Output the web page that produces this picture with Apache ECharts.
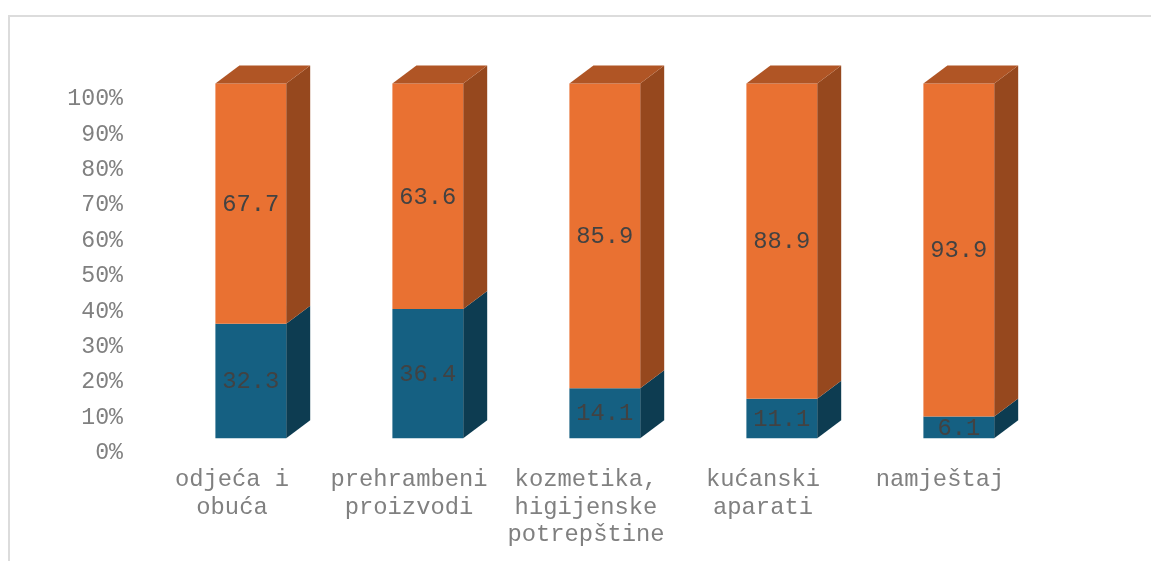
<!DOCTYPE html>
<html><head><meta charset="utf-8">
<style>html,body{margin:0;padding:0;background:#fff}#c{width:1151px;height:561px}</style>
<script src="https://cdn.jsdelivr.net/npm/echarts@6/dist/echarts.min.js"></script>
</head><body><div id="c"></div>
<script>
const categories = ['odjeća i\nobuća','prehrambeni\nproizvodi','kozmetika,\nhigijenske\npotrepštine','kućanski\naparati','namještaj'];
const blueValues = [32.3,36.4,14.1,11.1,6.1];
const orangeValues = [67.7,63.6,85.9,88.9,93.9];
const FONT = '"Liberation Mono", monospace';
const DX = 24, DY = -18;

function renderer(front, side, top, withTop) {
  return function (params, api) {
    const i = api.value(0), lo = api.value(1), hi = api.value(2);
    const c = api.coord([i, 0]);
    const w = api.size([1, 0])[0] * 0.4;
    const x0 = c[0] - w / 2, x1 = c[0] + w / 2;
    const yLo = api.coord([i, lo])[1], yHi = api.coord([i, hi])[1];
    const kids = [
      {type:'polygon', shape:{points:[[x1,yLo],[x1+DX,yLo+DY],[x1+DX,yHi+DY],[x1,yHi]]}, style:{fill:side}},
      {type:'rect', shape:{x:x0,y:yHi,width:w,height:yLo-yHi}, style:{fill:front}}
    ];
    if (withTop) kids.push({type:'polygon', shape:{points:[[x0,yHi],[x0+DX,yHi+DY],[x1+DX,yHi+DY],[x1,yHi]]}, style:{fill:top}});
    kids.push({type:'text', style:{text:String(api.value(3)), x:c[0], y:(yLo+yHi)/2+1, align:'center', verticalAlign:'middle',
      font:'23.8px '+FONT, fill:'#424242'}});
    return {type:'group', children:kids};
  };
}
function rows(values, bases) {
  return values.map((v,i)=>[i, bases ? bases[i] : 0, (bases ? bases[i] : 0) + v, v]);
}
const chart = echarts.init(document.getElementById('c'), null, {renderer:'canvas'});
chart.setOption({
  animation:false,
  backgroundColor:'#fff',
  graphic:[{type:'rect', shape:{x:9,y:16,width:1300,height:700}, style:{fill:'none',stroke:'#dcdcdc',lineWidth:2}, silent:true}],
  grid:[
    {left:162.3, width:885, top:83.5, height:354.7},
    {left:143.5, width:885, top:99, height:354}
  ],
  xAxis:[
    {gridIndex:0, type:'category', data:categories, show:false},
    {gridIndex:1, type:'category', data:categories, axisLine:{show:false}, axisTick:{show:false},
     axisLabel:{interval:0, margin:13, color:'#808080', fontFamily:FONT, fontSize:23.8, lineHeight:27.5, align:'center'}}
  ],
  yAxis:[
    {gridIndex:0, type:'value', min:0, max:100, show:false},
    {gridIndex:1, type:'value', min:0, max:100, interval:10, splitLine:{show:false}, axisLine:{show:false}, axisTick:{show:false},
     axisLabel:{margin:20.5, formatter:'{value}%', color:'#808080', fontFamily:FONT, fontSize:23.2}}
  ],
  series:[
    {type:'custom', xAxisIndex:0, yAxisIndex:0, renderItem:renderer('#156082','#0d3c51','#105068',false), data:rows(blueValues)},
    {type:'custom', xAxisIndex:0, yAxisIndex:0, renderItem:renderer('#e97132','#96481e','#b05525',true), data:rows(orangeValues, blueValues)}
  ]
});
</script></body></html>
